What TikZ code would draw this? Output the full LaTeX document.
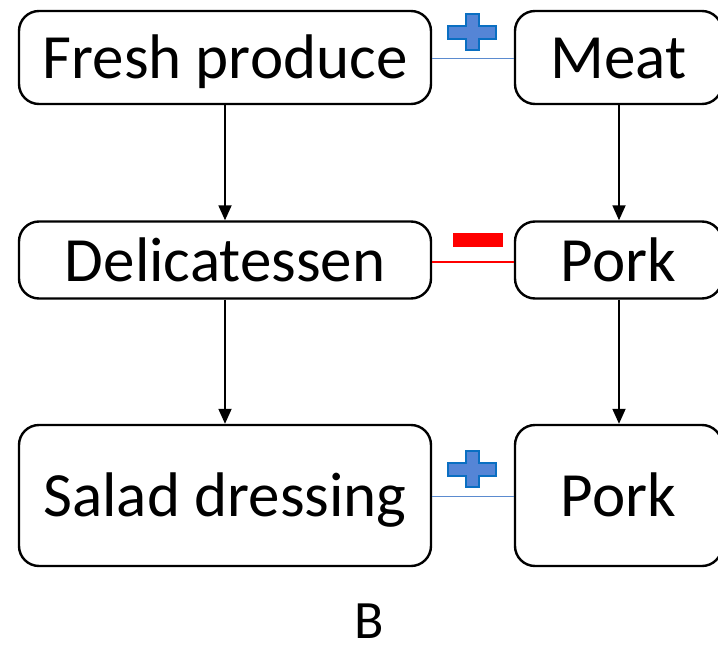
\documentclass[tikz,border=0pt]{standalone}
\usepackage{fontspec}
\setmainfont{Carlito}
\usetikzlibrary{arrows.meta}
\definecolor{plusfill}{HTML}{5585D6}
\definecolor{plusedge}{HTML}{0A6FC2}
\definecolor{linkblue}{HTML}{5B8BCF}
\begin{document}
\begin{tikzpicture}[x=1pt,y=-1pt,
  box/.style={draw=black, line width=2.4pt, rounded corners=20pt, inner sep=0pt,
    font=\fontsize{63}{70}\selectfont, text=black, text height=42pt, text depth=0pt},
  wide/.style={box, minimum width=412pt},
  narrow/.style={box, minimum width=207pt},
  tall/.style={minimum height=93pt},
  mid/.style={minimum height=77pt},
  big/.style={minimum height=141pt},
  flow/.style={draw=black, line width=1.8pt, -{Triangle[length=15pt,width=13pt]}},
  poslink/.style={draw=linkblue, line width=1.6pt},
  neglink/.style={draw=red, line width=1.6pt},
  plussign/.style={fill=plusfill, draw=plusedge, line width=2pt},
]
\useasboundingbox (0,0) rectangle (718,648);
\node[wide,tall] (fp) at (225,57.5) {Fresh produce};
\node[narrow,tall] (meat) at (618.5,57.5) {Meat};
\node[wide,mid] (deli) at (225,260) {Delicatessen};
\node[narrow,mid] (pork1) at (618.5,260) {Pork};
\node[wide,big] (salad) at (225,495.5) {Salad dressing};
\node[narrow,big] (pork2) at (618.5,495.5) {Pork};
\node[font=\fontsize{54}{60}\selectfont, anchor=base, inner sep=0pt] (lab) at (369,638) {B};

\draw[flow] (fp) -- (deli);
\draw[flow] (deli) -- (salad);
\draw[flow] ([xshift=0.5pt]meat.south) -- ([xshift=0.5pt]pork1.north);
\draw[flow] ([xshift=0.5pt]pork1.south) -- ([xshift=0.5pt]pork2.north);

\draw[poslink] ([yshift=-1pt]fp.east) -- ([yshift=-1pt]meat.west);
\draw[neglink] ([yshift=-2pt]deli.east) -- ([yshift=-2pt]pork1.west);
\draw[poslink] ([yshift=-1pt]salad.east) -- ([yshift=-1pt]pork2.west);

% plus signs and minus sign
\path[plussign] (465.5,14) -- (478.5,14) -- (478.5,26) -- (496,26) -- (496,39) -- (478.5,39)
  -- (478.5,50) -- (465.5,50) -- (465.5,39) -- (448,39) -- (448,26) -- (465.5,26) -- cycle;
\path[plussign] (465.5,451) -- (478.5,451) -- (478.5,463) -- (496,463) -- (496,476) -- (478.5,476)
  -- (478.5,487) -- (465.5,487) -- (465.5,476) -- (448,476) -- (448,463) -- (465.5,463) -- cycle;
\fill[red] (453,233) rectangle (503,247);
\end{tikzpicture}
\end{document}
